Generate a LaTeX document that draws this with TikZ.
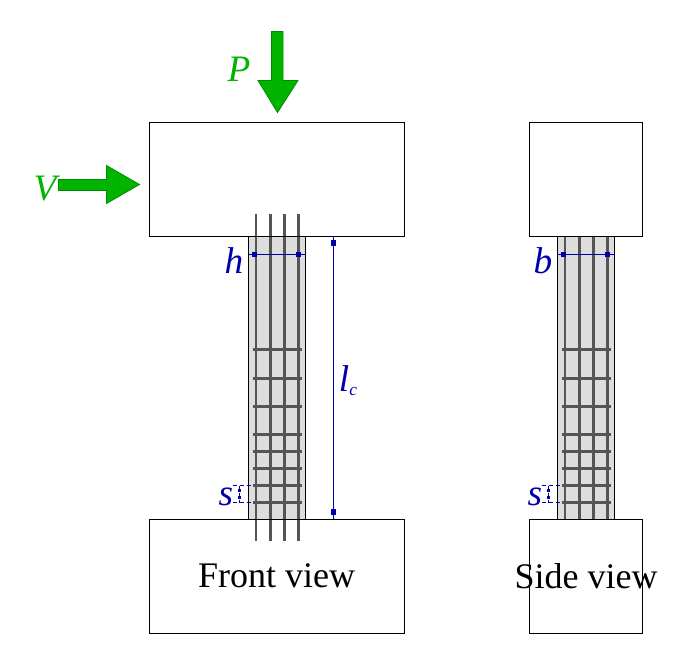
\documentclass[tikz,border=0pt]{standalone}
\usepackage{fontspec}
\setmainfont{Liberation Serif}
\definecolor{loadgreen}{RGB}{0,180,0}
\definecolor{loadedge}{RGB}{0,140,0}
\definecolor{dimblue}{RGB}{0,0,170}
\definecolor{concrete}{RGB}{221,221,221}
\definecolor{steel}{RGB}{85,85,85}
\tikzset{
	block/.style={draw=black, line width=1.1pt},
	column/.style={draw=black, line width=1.1pt, fill=concrete},
	rebar/.style={steel, line width=2.6pt},
	thinbar/.style={steel, line width=1.8pt},
	stirrup/.style={steel, line width=2.6pt},
	load/.style={draw=loadedge, fill=loadgreen, line width=0.6pt},
	dimline/.style={dimblue, line width=1pt},
	hmark/.style={fill=dimblue, minimum width=4.2pt, minimum height=3.4pt, inner sep=0pt},
	vmark/.style={fill=dimblue, minimum width=3.4pt, minimum height=4.2pt, inner sep=0pt},
	tinymark/.style={fill=dimblue, minimum width=1.8pt, minimum height=1.8pt, inner sep=0pt},
	tickline/.style={dimblue, line width=1pt, dash pattern=on 3pt off 2.25pt},
	dimlabel/.style={text=dimblue, font=\fontsize{28}{30}\selectfont\itshape, inner sep=0pt},
	loadlabel/.style={text=loadgreen, font=\fontsize{28}{30}\selectfont\itshape, inner sep=0pt},
	viewlabel/.style={text=black, font=\fontsize{27}{30}\selectfont, inner sep=0pt}
}
\begin{document}
\begin{tikzpicture}[x=0.75pt,y=-0.75pt]
	\useasboundingbox (0,0) rectangle (688,664);

	% columns
	\draw[column] (248.5,236.5) rectangle (305.5,519.5);
	\draw[column] (557.5,236.5) rectangle (614.5,519.5);

	% longitudinal bars
	\draw[thinbar] (256,214) -- (256,541);
	\foreach \x in {270.5,284.5,298.5}
		\draw[rebar] (\x,214) -- (\x,541);
	\draw[thinbar] (565,236.5) -- (565,519.5);
	\foreach \x in {579.5,593.5,607.5}
		\draw[rebar] (\x,236.5) -- (\x,519.5);

	% stirrups
	\foreach \y in {349.5,378.5,406.5,434.5,451.5,468.5,485.5,502.5} {
		\draw[stirrup] (253,\y) -- (302,\y);
		\draw[stirrup] (562,\y) -- (611,\y);
	}

	% blocks
	\draw[block] (149.5,122.5) rectangle (404.5,236.5);
	\draw[block] (149.5,519.5) rectangle (404.5,633.5);
	\draw[block] (529.5,122.5) rectangle (642.5,236.5);
	\draw[block] (529.5,519.5) rectangle (642.5,633.5);

	% loads
	\draw[load] (271.5,31.5) -- (283,31.5) -- (283,80.5) -- (298,80.5) -- (277.5,112.5) -- (258,80.5) -- (271.5,80.5) -- cycle;
	\draw[load] (58.5,179.5) -- (106.5,179.5) -- (106.5,165.5) -- (139.5,184.5) -- (106.5,203.5) -- (106.5,190.5) -- (58.5,190.5) -- cycle;
	\node[loadlabel] (loadP) at (239,69) {P};
	\node[loadlabel] (loadV) at (45,189) {V};

	% dimensions
	\coordinate (hleft) at (248.5,254.5);
	\coordinate (hright) at (305.5,254.5);
	\coordinate (bleft) at (557.5,254.5);
	\coordinate (bright) at (614.5,254.5);
	\coordinate (lctop) at (333.5,237);
	\coordinate (lcbot) at (333.5,519);
	\draw[dimline] (hleft) -- node[hmark,pos=0.105] (hm1) {} node[hmark,pos=0.877] (hm2) {} (hright);
	\draw[dimline] (bleft) -- node[hmark,pos=0.105] (bm1) {} node[hmark,pos=0.877] (bm2) {} (bright);
	\draw[dimline] (lctop) -- node[vmark,pos=0.022] (lcm1) {} node[vmark,pos=0.975] (lcm2) {} (lcbot);
	\node[dimlabel] (labelh) at (234,261) {h};
	\node[dimlabel] (labelb) at (543,261) {b};
	\node[dimlabel] (labellc) at (348,381) {l\raisebox{-3pt}{\fontsize{13}{13}\selectfont c}};

	% stirrup spacing
	\foreach \x in {232.5,541.5} {
		\draw[tickline] (\x,485.5) -- +(21,0);
		\draw[tickline] (\x,502.5) -- +(21,0);
		\draw[tickline] (\x+7,485.5) -- node[tinymark,pos=0.3] {} node[tinymark,pos=0.7] {} +(0,17);
	}
	\node[dimlabel] (labels) at (226,497) {s};
	\node[dimlabel] (labelss) at (535,497) {s};

	% view names
	\node[viewlabel] (frontview) at (276.5,576) {Front view};
	\node[viewlabel] (sideview) at (586,576) {Side view};
\end{tikzpicture}
\end{document}
